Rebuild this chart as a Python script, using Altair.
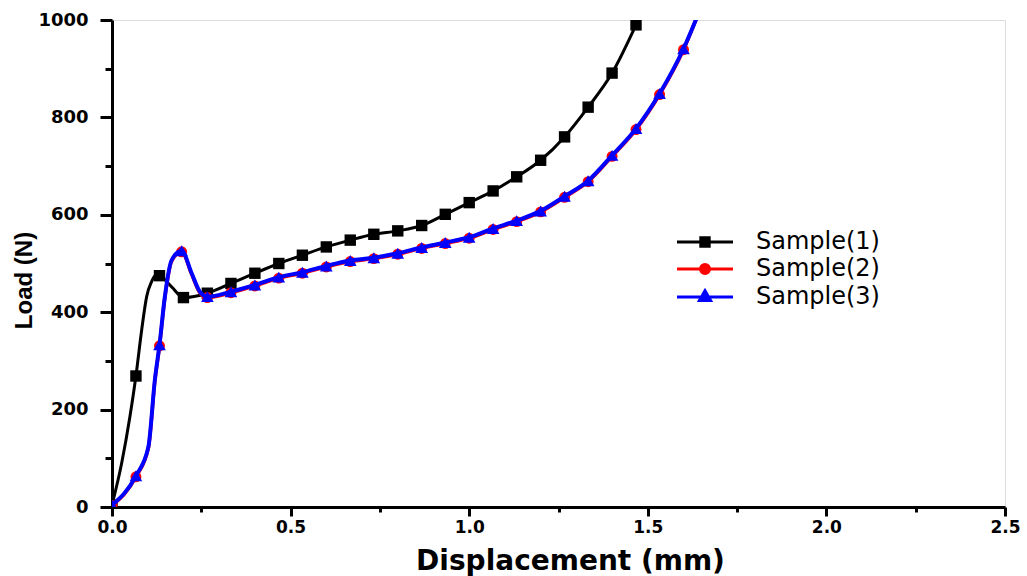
import altair as alt
import pandas as pd

samples = ["Sample(1)", "Sample(2)", "Sample(3)"]
colors = ["#000000", "#ff0000", "#0000ff"]

# Sample(1): marker points
s1_mx = [0.0, 0.067, 0.133, 0.2, 0.267, 0.333, 0.4, 0.467, 0.533, 0.6, 0.667, 0.733,
         0.8, 0.867, 0.933, 1.0, 1.067, 1.133, 1.2, 1.267, 1.333, 1.4, 1.467]
s1_my = [4, 269, 475, 430, 439, 459, 480, 500, 517, 534, 548, 560,
         567, 578, 601, 625, 649, 678, 712, 760, 821, 891, 990]
# Sample(1): extra curve points between markers
s1_cx = [0.027, 0.05, 0.083, 0.097, 0.111, 0.122, 0.167]
s1_cy = [90, 185, 363, 432, 463, 476, 452]

# Sample(2): marker points
s2_mx = [0.0, 0.067, 0.133, 0.195, 0.267, 0.333, 0.4, 0.467, 0.533, 0.6, 0.667, 0.733,
         0.8, 0.867, 0.933, 1.0, 1.067, 1.133, 1.2, 1.267, 1.333, 1.4, 1.467, 1.533, 1.6]
s2_my = [3, 62, 331, 524, 430, 440, 454, 470, 480, 493, 504, 510,
         519, 531, 541, 552, 570, 586, 606, 636, 668, 720, 775, 847, 939]
s2_cx = [0.102, 0.12, 0.148, 0.167, 0.223, 0.246, 1.64]
s2_cy = [122, 259, 430, 505, 478, 440, 1010]

# Sample(3): marker points
s3_mx = [0.0, 0.067, 0.133, 0.195, 0.267, 0.333, 0.4, 0.467, 0.533, 0.6, 0.667, 0.733,
         0.8, 0.867, 0.933, 1.0, 1.067, 1.133, 1.2, 1.267, 1.333, 1.4, 1.467, 1.533, 1.6]
s3_my = [4, 64, 333, 526, 432, 442, 456, 472, 482, 495, 506, 512,
         521, 533, 543, 554, 572, 588, 608, 638, 670, 722, 777, 849, 941]
s3_cx = [0.102, 0.12, 0.148, 0.167, 0.223, 0.246, 1.64]
s3_cy = [124, 261, 432, 507, 480, 442, 1010]

x_ticks = [0.0, 0.25, 0.5, 0.75, 1.0, 1.25, 1.5, 1.75, 2.0, 2.25, 2.5]
y_ticks = [0, 100, 200, 300, 400, 500, 600, 700, 800, 900, 1000]

shapes = ["square", "circle", "triangle-up"]
legend_paths = [
    "M-4,0H4M-0.6,-0.6H0.6V0.6H-0.6Z",
    "M-4,0H4M0.65,0A0.65,0.65,0,1,1,-0.65,0A0.65,0.65,0,1,1,0.65,0Z",
    "M-4,0H4M0,-0.9L0.8,0.5H-0.8Z",
]
line_widths = [3, 3.5, 4]
marker_sizes = [130, 120, 160]


def frame(name, mx, my, cx, cy):
    m = pd.DataFrame({"x": mx, "y": my, "sample": name, "marker": True})
    c = pd.DataFrame({"x": cx, "y": cy, "sample": name, "marker": False})
    return pd.concat([m, c]).sort_values("x")


df = pd.concat([
    frame(samples[0], s1_mx, s1_my, s1_cx, s1_cy),
    frame(samples[1], s2_mx, s2_my, s2_cx, s2_cy),
    frame(samples[2], s3_mx, s3_my, s3_cx, s3_cy),
]).reset_index(drop=True)

tick_font = "DejaVu Sans"

x_enc = alt.X(
    "x:Q",
    scale=alt.Scale(domain=[0, 2.5], nice=False),
    axis=alt.Axis(
        values=x_ticks,
        labelExpr="datum.value % 0.5 == 0 ? format(datum.value, '.1f') : ''",
        tickSize={"expr": "datum.value % 0.5 == 0 ? 9 : 5"},
        tickWidth=3,
        domainWidth=3,
        domainColor="black",
        tickColor="black",
        grid=False,
        labelFlush=False,
        labelFont=tick_font,
        labelFontWeight="bold",
        labelFontSize=17,
        labelColor="black",
        labelPadding=3,
        labelBaseline="top",
        title="Displacement (mm)",
        titleFont="DejaVu Sans",
        titleFontWeight="bold",
        titleFontSize=28,
        titleColor="black",
        titleX=458,
        titleY=62,
        titleBaseline="alphabetic",
        titleAnchor="middle",
    ),
)

y_enc = alt.Y(
    "y:Q",
    scale=alt.Scale(domain=[0, 1000], nice=False),
    axis=alt.Axis(
        values=y_ticks,
        labelExpr="datum.value % 200 == 0 ? datum.value : ''",
        tickSize={"expr": "datum.value % 200 == 0 ? 12 : 7"},
        tickWidth=3,
        domainWidth=3,
        domainColor="black",
        tickColor="black",
        grid=False,
        labelFlush=False,
        labelFont=tick_font,
        labelFontWeight="bold",
        labelFontSize=18,
        labelColor="black",
        labelPadding=12,
        title="Load (N)",
        titleFont="Liberation Sans",
        titleFontWeight="bold",
        titleFontSize=24,
        titleColor="black",
        titleAngle=270,
        titleX=-81,
        titleY=260,
        titleBaseline="alphabetic",
        titleAlign="center",
    ),
)

color_scale = alt.Scale(domain=samples, range=colors)

base = alt.Chart(df)
layers = []
for i, name in enumerate(samples):
    sub = base.transform_filter(alt.datum.sample == name)
    layers.append(
        sub.mark_line(interpolate="monotone", strokeWidth=line_widths[i], clip=True,
                      color=colors[i]).encode(
            x=x_enc, y=y_enc, order="x:Q",
        )
    )
    layers.append(
        sub.transform_filter(alt.datum.marker).mark_point(
            shape=shapes[i], filled=True, size=marker_sizes[i], opacity=1, clip=True,
            color=colors[i],
        ).encode(x=x_enc, y=y_enc)
    )

leg = alt.Legend(
    title=None,
    orient="none",
    legendX=581,
    legendY=210,
    padding=0,
    symbolSize=196,
    symbolStrokeWidth=3,
    labelFont="DejaVu Sans",
    labelFontSize=24,
    labelColor="black",
    labelOffset=39,
    rowPadding=3,
)

legend_layer = base.transform_filter("false").mark_point(filled=True, opacity=1).encode(
    x=x_enc, y=y_enc,
    color=alt.Color("sample:N", scale=color_scale, legend=leg),
    shape=alt.Shape("sample:N", scale=alt.Scale(domain=samples, range=legend_paths), legend=leg),
    stroke=alt.Stroke("sample:N", scale=alt.Scale(domain=samples, range=colors), legend=leg),
)
layers.append(legend_layer)

chart = alt.layer(*layers).properties(
    width=893,
    height=487,
    autosize=alt.AutoSizeParams(type="none"),
    padding={"left": 112, "top": 20, "right": 22, "bottom": 69},
).configure_view(stroke=None).configure(background="white")

chart.save("out.html", embed_options={"renderer": "svg", "actions": False})
